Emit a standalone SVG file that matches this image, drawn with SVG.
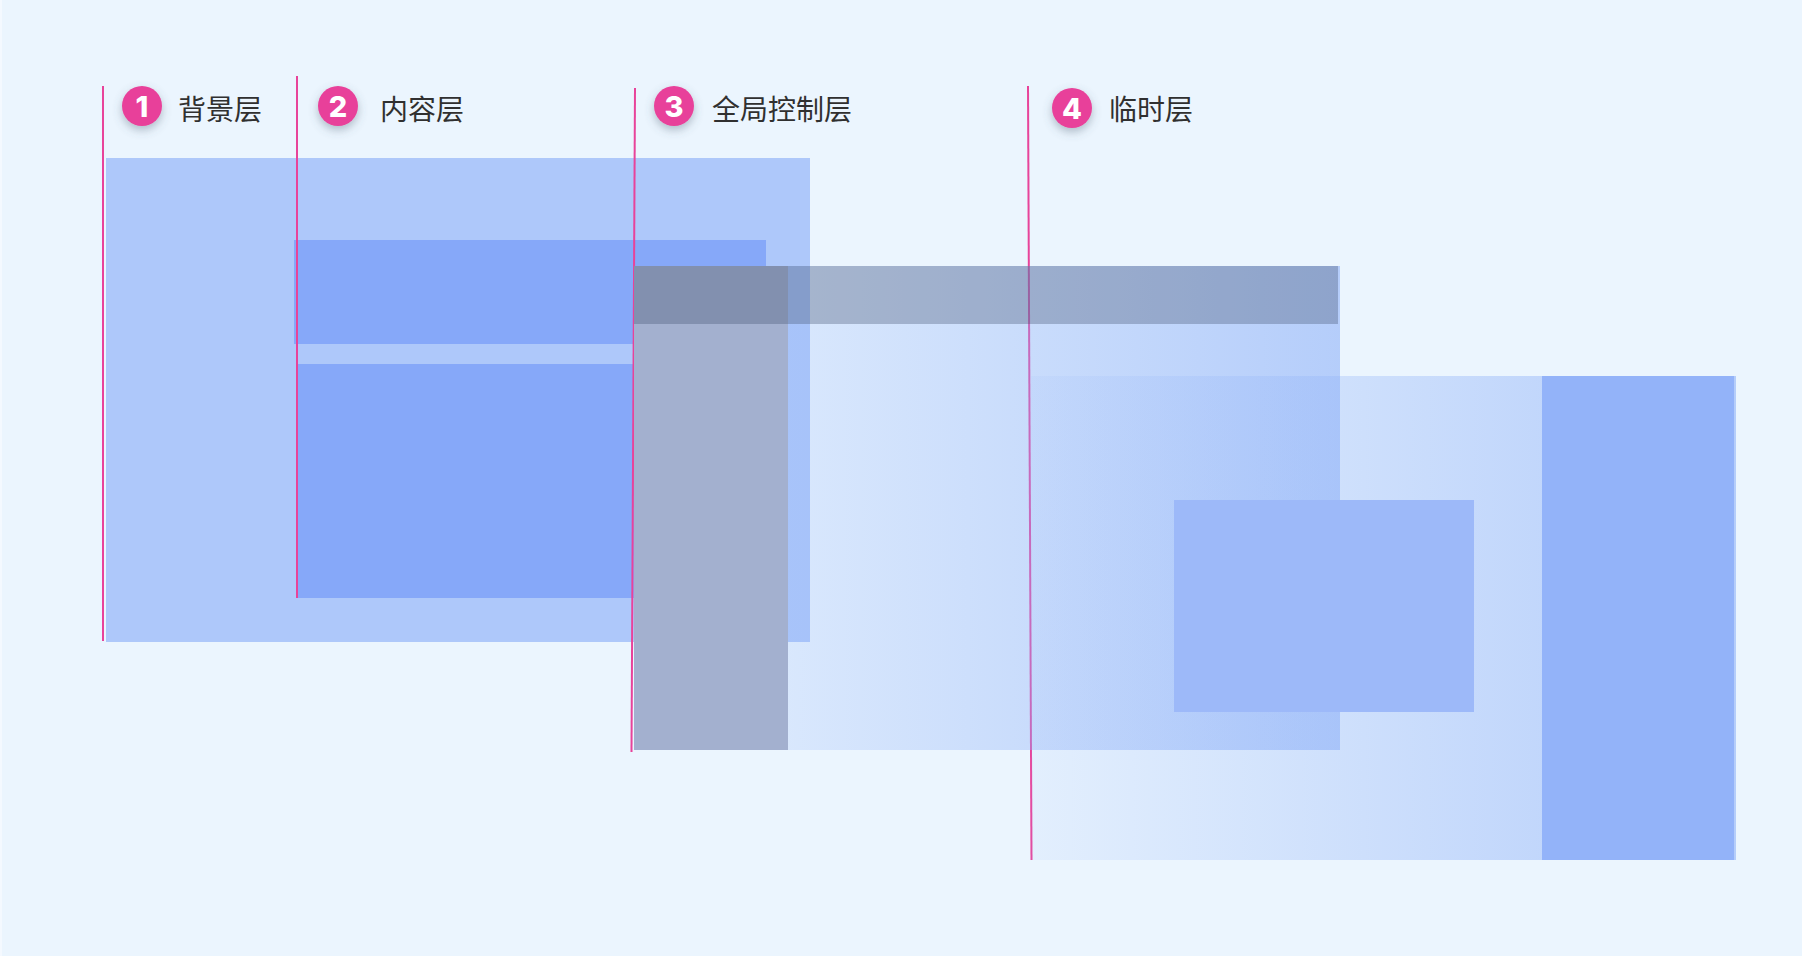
<svg xmlns="http://www.w3.org/2000/svg" width="1802" height="956" viewBox="0 0 1802 956">
  <style>
    .label { font-family: "Noto Sans CJK SC", "Noto Sans", sans-serif; font-size: 28px; fill: #303030; }
    .num { font-family: Inter, "Liberation Sans", sans-serif; font-size: 29px; font-weight: 800; fill: #ffffff; text-anchor: middle; }
    .badge { fill: #E8409A; filter: url(#shadow); }
    .guide { stroke: #E8439A; stroke-width: 2; fill: none; }
    .l1 { fill: #AEC8FA; }
    .l2 { fill: #86A8F9; }
    .body { fill: url(#fade); }
  </style>
  <defs>
    <filter id="shadow" x="-60%" y="-60%" width="220%" height="240%">
      <feDropShadow dx="0" dy="4" stdDeviation="5" flood-color="#4E5E75" flood-opacity="0.4"/>
    </filter>
    <linearGradient id="fade" x1="0" y1="0" x2="1" y2="0">
      <stop offset="0" stop-color="#8DB0F8" stop-opacity="0.09"/>
      <stop offset="1" stop-color="#8DB0F8" stop-opacity="0.575"/>
    </linearGradient>
  </defs>

  <rect x="0" y="0" width="1802" height="956" fill="#EBF5FE"/>
  <rect x="0" y="0" width="2" height="956" fill="#F4F9FF"/>

  <g id="layer-1">
    <rect class="l1" x="106" y="158" width="704" height="484"/>
    <circle class="badge" cx="142" cy="106" r="20"/>
    <text class="num" x="142" y="116.5">1</text>
    <text class="label" x="178" y="119.5">背景层</text>
  </g>

  <g id="layer-2">
    <rect class="l2" x="294" y="240" width="472" height="104"/>
    <rect class="l2" x="298" y="364" width="468" height="234"/>
    <circle class="badge" cx="338" cy="106" r="20"/>
    <text class="num" x="338" y="116.5">2</text>
    <text class="label" x="380" y="119.5">内容层</text>
  </g>

  <g id="connectors">
    <line class="guide" x1="103" y1="86" x2="103" y2="641"/>
    <line class="guide" x1="297" y1="76" x2="297" y2="598"/>
    <line class="guide" x1="635" y1="88" x2="631.5" y2="752"/>
    <line class="guide" x1="1028" y1="86" x2="1031.5" y2="860"/>
  </g>

  <g id="layer-3">
    <rect class="body" x="634" y="266" width="706" height="484"/>
    <rect x="634" y="266" width="154" height="484" fill="#A3B0CF"/>
    <rect x="634" y="266" width="704" height="58" fill="#414F6E" fill-opacity="0.33"/>
    <circle class="badge" cx="674" cy="106" r="20"/>
    <text class="num" x="674" y="116.5">3</text>
    <text class="label" x="712" y="119.5">全局控制层</text>
  </g>

  <g id="layer-4">
    <rect class="body" x="1031" y="376" width="705" height="484"/>
    <rect x="1542" y="376" width="192" height="484" fill="#93B3F9"/>
    <rect x="1174" y="500" width="300" height="212" fill="#9DB9F9"/>
    <circle class="badge" cx="1072" cy="108" r="20"/>
    <text class="num" x="1072" y="118.5">4</text>
    <text class="label" x="1109" y="119.5">临时层</text>
  </g>
</svg>
